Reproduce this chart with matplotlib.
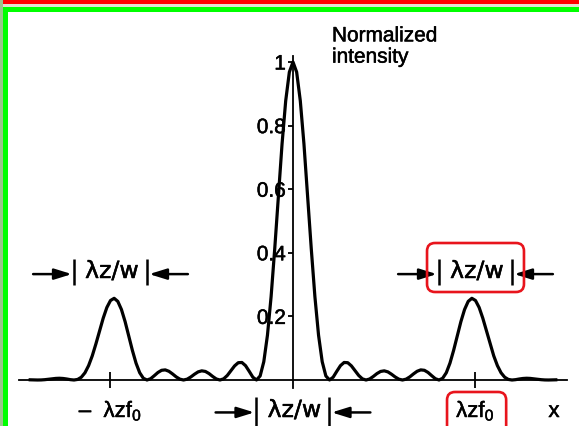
import numpy as np
import matplotlib
matplotlib.use("Agg")
import matplotlib.pyplot as plt
import matplotlib.patheffects as pe
from matplotlib.patches import FancyBboxPatch, Rectangle

plt.rcParams['font.family'] = ['Liberation Sans', 'DejaVu Sans']
plt.rcParams['mathtext.fontset'] = 'custom'
plt.rcParams['mathtext.rm'] = 'Liberation Sans'
plt.rcParams['mathtext.it'] = 'Liberation Sans:italic'
plt.rcParams['mathtext.bf'] = 'Liberation Sans:bold'

# ---- data (x in units of lambda*z/w; curve is symmetric) ----
x_half = [0.00, 0.05, 0.10, 0.15, 0.20, 0.25, 0.30, 0.35, 0.40, 0.45,
          0.50, 0.55, 0.60, 0.65, 0.70, 0.75, 0.80, 0.85, 0.90, 0.95,
          1.00, 1.05, 1.10, 1.15, 1.20, 1.25, 1.30, 1.35, 1.40, 1.45,
          1.50, 1.55, 1.60, 1.65, 1.70, 1.75, 1.80, 1.85, 1.90, 1.95,
          2.00, 2.05, 2.10, 2.15, 2.20, 2.25, 2.30, 2.35, 2.40, 2.45,
          2.50, 2.55, 2.60, 2.65, 2.70, 2.75, 2.80, 2.85, 2.90, 2.95,
          3.00, 3.05, 3.10, 3.15, 3.20, 3.25, 3.30, 3.35, 3.40, 3.45,
          3.50, 3.55, 3.60]
intensity_half = [1.000, 0.9683, 0.8779, 0.7421, 0.5801, 0.4135, 0.2621, 0.1408, 0.0576, 0.0128,
                  0.0000, 0.0088, 0.0274, 0.0451, 0.0551, 0.0544, 0.0444, 0.0293, 0.0143, 0.0037,
                  0.0000, 0.0032, 0.0111, 0.0202, 0.0269, 0.0288, 0.0255, 0.0181, 0.0095, 0.0026,
                  0.0000, 0.0027, 0.0098, 0.0191, 0.0274, 0.0318, 0.0305, 0.0237, 0.0136, 0.0041,
                  0.0000, 0.0054, 0.0229, 0.0529, 0.0930, 0.1386, 0.1836, 0.2216, 0.2472, 0.2569,
                  0.2500, 0.2280, 0.1944, 0.1545, 0.1135, 0.0759, 0.0452, 0.0227, 0.0087, 0.0018,
                  0.0000, 0.0011, 0.0032, 0.0048, 0.0055, 0.0050, 0.0038, 0.0023, 0.0010, 0.0002,
                  0.0000, 0.0002, 0.0006]
ytick_values = [0.2, 0.4, 0.6, 0.8, 1.0]
ytick_labels = ['0.2', '0.4', '0.6', '0.8', '1']
xtick_values = [-2.5, 2.5]
xtick_labels = ['\u2013  \u03bbzf$_\\mathregular{0}$', '\u03bbzf$_\\mathregular{0}$']
width_label = '\u03bbz/w'
y_title = 'Normalized\nintensity'
x_title = 'x'

x_full = np.concatenate([-np.array(x_half[:0:-1]), np.array(x_half)])
i_full = np.concatenate([np.array(intensity_half[:0:-1]), np.array(intensity_half)])

thick = [pe.withStroke(linewidth=0.35, foreground='black')]

# ---- figure ----
W, H = 579, 426
fig = plt.figure(figsize=(W / 100, H / 100), dpi=100)
ax = fig.add_axes([0, 0, 1, 1])
ax.set_xlim(-293 / 73, (W - 293) / 73)
ax.set_ylim(-(H - 380) / 318, 380 / 318)
ax.patch.set_alpha(0)

ax.plot(x_full, i_full, color='black', lw=2.3, solid_joinstyle='round', zorder=3)

for s in ['top', 'right']:
    ax.spines[s].set_visible(False)
ax.spines['left'].set_position(('data', 0))
ax.spines['bottom'].set_position(('data', 0))
ax.spines['left'].set_bounds(-0.025, 1.02)
ax.spines['bottom'].set_bounds(-3.75, 3.75)
for s in ['left', 'bottom']:
    ax.spines[s].set_linewidth(1.3)

ax.set_yticks(ytick_values)
ax.set_yticklabels(ytick_labels)
ax.tick_params(axis='y', direction='out', length=3.6, width=1.3, pad=1.5, labelsize=15)
ax.set_xticks(xtick_values)
ax.set_xticklabels(xtick_labels)
ax.tick_params(axis='x', direction='inout', length=11.5, width=1.3, pad=8, labelsize=16)
for lab in ax.get_yticklabels() + ax.get_xticklabels():
    lab.set_path_effects(thick)

ax.text(0.534, 1.112, y_title, ha='left', va='top', fontsize=15, linespacing=1.15,
        path_effects=thick)
ax.text(3.575, -0.1164, x_title, ha='center', va='baseline', fontsize=16, path_effects=thick)


def width_marker(c, y_arrow, yb0, yb1, y_text):
    ax.vlines([c - 0.5, c + 0.5], yb0, yb1, color='black', lw=1.8)
    ax.text(c + 0.02, y_text, width_label, ha='center', va='baseline',
            fontsize=17, family=['DejaVu Sans'], path_effects=thick)
    ap = dict(arrowstyle='-|>,head_length=0.58,head_width=0.18', color='black',
              lw=1.8, shrinkA=0, shrinkB=0, mutation_scale=18)
    ax.annotate('', xy=(c - 0.53, y_arrow), xytext=(c - 1.06, y_arrow), arrowprops=ap)
    ax.annotate('', xy=(c + 0.53, y_arrow), xytext=(c + 1.06, y_arrow), arrowprops=ap)


width_marker(-2.5, 0.333, 0.2987, 0.3805, 0.3208)
width_marker(2.5, 0.333, 0.2987, 0.3805, 0.3208)
width_marker(0.0, -0.102, -0.0535, -0.16, -0.1164)

red = '#e8141c'
asp = 73 / 318
ax.add_patch(FancyBboxPatch((1.836, 0.2767), 3.164 - 1.836, 0.4308 - 0.2767,
                            boxstyle='round,pad=0,rounding_size=0.11', mutation_aspect=asp,
                            fc='none', ec=red, lw=1.9, zorder=4))
ax.add_patch(FancyBboxPatch((2.11, -0.2), 2.92 - 2.11, -0.0377 + 0.2,
                            boxstyle='round,pad=0,rounding_size=0.11', mutation_aspect=asp,
                            fc='none', ec=red, lw=1.9, zorder=4))

# ---- frame decoration (pixel coordinates of the screenshot border) ----
def px_rect(x0, y0, x1, y1, color):
    fig.add_artist(Rectangle((x0 / W, 1 - y1 / H), (x1 - x0) / W, (y1 - y0) / H,
                             transform=fig.transFigure, color=color, lw=0, zorder=10))

px_rect(0, 0, 3.3, H, '#9cc48c')
px_rect(3.3, 0, W, 3.7, '#ff0000')
px_rect(3.3, 3.7, W, 6.7, '#e2e0d2')
px_rect(3.3, 6.7, W, 12, '#00ff00')
px_rect(3.3, 6.7, 8.3, H, '#00ff00')

fig.savefig('out.png', dpi=100)
